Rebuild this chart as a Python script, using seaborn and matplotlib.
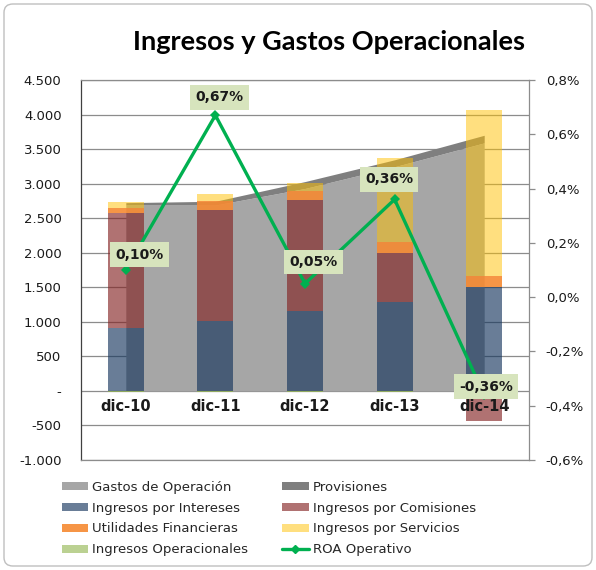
import numpy as np
import pandas as pd
import matplotlib
matplotlib.use('Agg')
import matplotlib.pyplot as plt
import seaborn as sns
from matplotlib.patches import Patch, FancyBboxPatch
from matplotlib.lines import Line2D
from matplotlib.ticker import FuncFormatter, MultipleLocator

# data
categories = ['dic-10', 'dic-11', 'dic-12', 'dic-13', 'dic-14']
gastos = [2690, 2690, 2930, 3245, 3590]
provisiones = [35, 55, 100, 100, 110]
intereses = [915, 1015, 1160, 1290, 1510]
comisiones = [1660, 1605, 1600, 710, -430]
utilidades = [75, 135, 135, 160, 155]
servicios = [90, 95, 110, 1210, 2395]
ingresos_op = [-10, -10, -15, -15, -10]
roa = [0.10, 0.67, 0.05, 0.36, -0.36]

sns.set_theme(style='white')
plt.rcParams['font.family'] = ['DejaVu Sans']

fig = plt.figure(figsize=(5.96, 5.70), dpi=100)
ax = fig.add_axes([81 / 596, 1 - 460 / 570, 448 / 596, 380 / 570])
x = np.arange(len(categories))

# gridlines below everything
ax.set_axisbelow(True)
ax.yaxis.grid(True, color='#8c8c8c', linewidth=0.9)
ax.xaxis.grid(False)

# area series (Gastos + Provisiones stacked)
g = np.array(gastos, dtype=float)
p = np.array(provisiones, dtype=float)
ax.fill_between(x, 0, g, color='#a6a6a6', linewidth=0, zorder=1)
ax.fill_between(x, g, g + p, color='#7f7f7f', linewidth=0, zorder=1)

# stacked bars, positives up, negatives down
series = [
    (intereses, '#11325b', 0.63),
    (comisiones, '#822020', 0.63),
    (utilidades, '#f68a32', 0.9),
    (servicios, '#ffc000', 0.5),
    (ingresos_op, '#8fb34a', 0.7),
]
pos_bottom = np.zeros(len(categories))
neg_bottom = np.zeros(len(categories))
for vals, col, a in series:
    v = np.array(vals, dtype=float)
    bottom = np.where(v >= 0, pos_bottom, neg_bottom)
    ax.bar(x, v, width=0.4, bottom=bottom, color=col, alpha=a, linewidth=0, zorder=2)
    pos_bottom = pos_bottom + np.where(v >= 0, v, 0)
    neg_bottom = neg_bottom + np.where(v < 0, v, 0)

ax.set_xlim(-0.5, 4.5)
ax.set_ylim(-1000, 4500)
ax.yaxis.set_major_locator(MultipleLocator(500))
ax.yaxis.set_major_formatter(FuncFormatter(
    lambda v, _: '-' if v == 0 else f'{v:,.0f}'.replace(',', '.')))
ax.set_xticks([])
ax.tick_params(axis='y', length=0, pad=14, labelsize=9.5, labelcolor='#1a1a1a')
for s in ['top', 'right', 'bottom']:
    ax.spines[s].set_color('#8c8c8c')
    ax.spines[s].set_linewidth(0.9)
ax.spines['left'].set_color('#404040')
ax.spines['left'].set_linewidth(0.9)

# category labels sit at the zero line
for i, c in enumerate(categories):
    ax.text(i, -110, c, ha='center', va='top', fontsize=10.5, fontweight='bold',
            color='#1a1a1a', zorder=5)

# ROA on secondary axis
ax2 = ax.twinx()
roa_df = pd.DataFrame({'x': x, 'roa': roa})
sns.lineplot(data=roa_df, x='x', y='roa', ax=ax2, color='#00b050', linewidth=2.4,
             marker='D', markersize=5, markeredgewidth=0, zorder=4)
ax2.set_ylim(-0.6, 0.8)
ax2.set_xlim(-0.5, 4.5)
ax2.yaxis.set_major_locator(MultipleLocator(0.2))
ax2.yaxis.set_major_formatter(FuncFormatter(lambda v, _: f'{v:.1f}%'.replace('.', ',')))
ax2.set_ylabel('')
ax2.set_xlabel('')
ax2.grid(False)
ax2.tick_params(axis='y', right=True, length=4, width=0.9, color='#8c8c8c',
                pad=8, labelsize=9.5, labelcolor='#1a1a1a')
for s in ax2.spines.values():
    s.set_visible(False)

label_offsets = [(10, 11), (3, 13), (6, 15.5), (-4, 14.5), (1.5, 6)]
for i, v in enumerate(roa):
    ax2.annotate(f'{v:.2f}%'.replace('.', ','), (x[i], v), xytext=label_offsets[i],
                 textcoords='offset points', ha='center', va='center',
                 fontsize=10, fontweight='bold', color='#1a1a1a', zorder=6,
                 bbox=dict(boxstyle='square,pad=0.38', fc='#d7e4bd', ec='none'))

fig.text(329 / 596, 1 - 42 / 570, 'Ingresos y Gastos Operacionales', ha='center',
         va='center', fontsize=19.5, fontweight='bold', family='Lato', color='#000000')

handles = [
    Patch(facecolor='#a6a6a6', edgecolor='none'),
    Patch(facecolor='#11325b', alpha=0.63, edgecolor='none'),
    Patch(facecolor='#f68a32', alpha=0.9, edgecolor='none'),
    Patch(facecolor='#8fb34a', alpha=0.6, edgecolor='none'),
    Patch(facecolor='#7f7f7f', edgecolor='none'),
    Patch(facecolor='#822020', alpha=0.63, edgecolor='none'),
    Patch(facecolor='#ffc000', alpha=0.5, edgecolor='none'),
    Line2D([], [], color='#00b050', linewidth=2.4, marker='D', markersize=4),
]
labels = ['Gastos de Operación', 'Ingresos por Intereses', 'Utilidades Financieras',
          'Ingresos Operacionales', 'Provisiones', 'Ingresos por Comisiones',
          'Ingresos por Servicios', 'ROA Operativo']
fig.legend(handles, labels, ncol=2, loc='upper left',
           bbox_to_anchor=(55 / 596, 1 - 474 / 570), frameon=False,
           fontsize=9.5, handlelength=2.0, handleheight=0.55, handletextpad=0.3,
           labelspacing=0.6, columnspacing=2.6, borderpad=0)

fig.patches.append(FancyBboxPatch((4 / 596, 4 / 570), 588 / 596, 562 / 570,
                                  boxstyle='round,pad=0,rounding_size=0.015',
                                  transform=fig.transFigure, fill=False,
                                  ec='#bfbfbf', lw=1.0))

fig.savefig('out.png', dpi=100)
